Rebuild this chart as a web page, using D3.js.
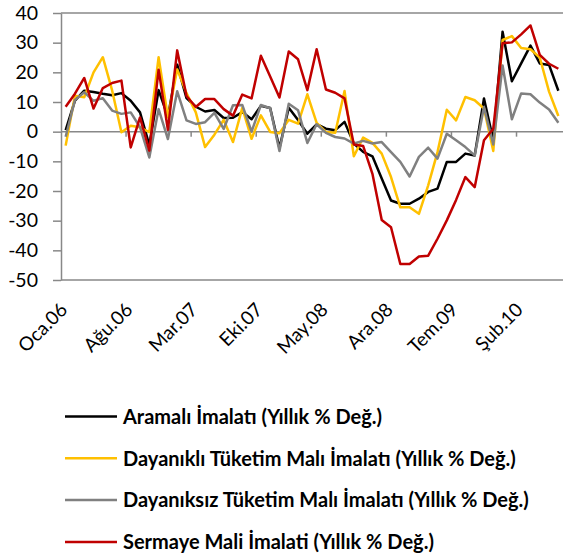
<!DOCTYPE html>
<html>
<head>
<meta charset="utf-8">
<script src="https://cdn.jsdelivr.net/npm/d3@7"></script>
<style>
  body { margin: 0; background: #fff; }
  text { font-family: Lato, "Open Sans", sans-serif; fill: #000; }
</style>
</head>
<body>
<div id="chart"></div>
<script>
// monthly, Oca.06 .. Haz.10
const months = ["Oca", "Şub", "Mar", "Nis", "May", "Haz", "Tem", "Ağu", "Eyl", "Eki", "Kas", "Ara"];
const categories = [];
for (let y = 6; y <= 10; y++) {
  for (let m = 0; m < 12; m++) {
    if (y === 10 && m > 5) break;
    categories.push(months[m] + "." + String(y).padStart(2, "0"));
  }
}

const araMali = [
  0.5, 10.5, 13.8, 13.4, 12.8, 12.3, 13.0, 10.4, 6.5, -4.5,
  14, 5, 22.6, 11.3, 8.4, 6.8, 7.3, 4.6, 4.7, 6.6,
  4.2, 8.7, 8.0, -5.5, 8.1, 3.9, -0.7, 2.5, 1.0, 0.5,
  3.3, -4.0, -6.8, -8.3, -15.8, -23.2, -24.3, -24.3, -22.6, -20.3,
  -19.2, -10.2, -10.2, -7.4, -8.0, 11.2, -2.9, 33.7, 17.0, 23.0,
  29.0, 23.0, 22.5, 13.8
];
const dayanikli = [
  -4.7, 12.1, 11.6, 20.0, 25.1, 13.9, -0.2, 2.0, 1.5, -0.2,
  25.1, 4.8, 21, 13.0, 6.5, -5.2, -1.0, 4.0, -3.5, 8.0,
  -2.4, 5.5, -0.1, -0.5, 4.0, 2.7, 12.6, 3.0, -0.1, -0.4,
  13.7, -8.3, -2.0, -3.8, -7.4, -15.3, -25.5, -25.5, -27.7, -18.1,
  -6.9, 7.4, 3.8, 11.7, 10.6, 7.8, -6.5, 30.9, 32.2, 28.2,
  27.8, 25.0, 13.5, 5.3
];
const dayaniksiz = [
  -1.7, 10.7, 13.3, 10.4, 11.3, 7.1, 6.0, 6.5, 1.5, -8.7,
  7.6, -2.5, 13.6, 3.8, 2.6, 3.2, 6.3, 0.9, 8.9, 9.0,
  0.0, 9.0, 7.9, -6.5, 9.4, 7.2, -3.8, 2.5, -0.4, -1.8,
  -2.3, -4.0, -3.1, -4.0, -3.5, -6.9, -10.2, -15.1, -8.5, -5.4,
  -9.1, -0.7, -2.9, -5.2, -8.0, 8.3, -4.3, 22.3, 4.2, 12.9,
  12.6, 9.8, 7.5, 3.0
];
const sermaye = [
  8.4, 12.8, 18.1, 7.8, 14.7, 16.4, 17.2, -5.3, 4.8, -6.4,
  20.9, 0.6, 27.4, 12.0, 8.3, 11.0, 11.0, 7.6, 5.4, 12.5,
  11.2, 25.6, 18.6, 11.5, 27.0, 24.4, 14.0, 27.8, 14.2, 13.1,
  11.2, -4.3, -4.8, -14.2, -29.8, -32.2, -44.6, -44.6, -42.1, -41.8,
  -36.1, -29.9, -23.0, -15.3, -18.7, -2.9, 1.0, 29.8, 30.1, 32.8,
  35.8, 25.9, 22.9, 21.2
];
const yTicks = [40, 30, 20, 10, 0, -10, -20, -30, -40, -50];
const xTickEvery = 7;

const seriesNames = [
  "Aramalı İmalatı (Yıllık % Değ.)",
  "Dayanıklı Tüketim Malı İmalatı (Yıllık % Değ.)",
  "Dayanıksız Tüketim Malı İmalatı (Yıllık % Değ.)",
  "Sermaye Mali İmalati (Yıllık % Değ.)"
];
const seriesValues = [araMali, dayanikli, dayaniksiz, sermaye];
const colors = ["#000000", "#FFC000", "#808080", "#C00000"];

const width = 563;
const height = 559;
const margin = { top: 13, right: 0, bottom: 280, left: 61 };

const svg = d3.select("#chart")
  .append("svg")
  .attr("width", width)
  .attr("height", height);

const x = d3.scaleBand()
  .domain(d3.range(categories.length))
  .range([margin.left, width - margin.right])
  .padding(0);

const y = d3.scaleLinear()
  .domain([-50, 40])
  .range([margin.bottom, margin.top]);

const axisColor = "#888888";

// top and bottom frame lines
svg.append("g")
  .selectAll("line")
  .data([40, -50])
  .join("line")
  .attr("x1", margin.left)
  .attr("x2", width)
  .attr("y1", d => y(d))
  .attr("y2", d => y(d))
  .attr("stroke", axisColor)
  .attr("stroke-width", 1.5);

// y axis
const yAxis = svg.append("g")
  .attr("transform", `translate(${margin.left},0)`)
  .call(d3.axisLeft(y).tickValues(yTicks).tickSize(8).tickPadding(15)
    .tickSizeOuter(0).tickFormat(d => String(d)));
yAxis.selectAll("path, line").attr("stroke", axisColor).attr("stroke-width", 1.5);
yAxis.selectAll("text").attr("font-size", "19.5px").attr("font-family", "Lato, sans-serif");

// zero line with category ticks
svg.append("line")
  .attr("x1", margin.left)
  .attr("x2", width)
  .attr("y1", y(0))
  .attr("y2", y(0))
  .attr("stroke", axisColor)
  .attr("stroke-width", 1.5);

const tickIdx = d3.range(0, categories.length, xTickEvery);
svg.append("g")
  .selectAll("line")
  .data(tickIdx.filter(i => i > 0))
  .join("line")
  .attr("x1", i => x(i))
  .attr("x2", i => x(i))
  .attr("y1", y(0))
  .attr("y2", y(0) + 5)
  .attr("stroke", axisColor)
  .attr("stroke-width", 1.5);

// category labels
svg.append("g")
  .selectAll("text")
  .data(tickIdx)
  .join("text")
  .attr("transform", i => `translate(${x(i) + x.bandwidth() / 2 + 3},${y(-50) + 31}) rotate(-45)`)
  .attr("text-anchor", "end")
  .attr("font-size", "19px")
  .text(i => categories[i]);

// lines
const line = d3.line()
  .x((d, i) => x(i) + x.bandwidth() / 2)
  .y(d => y(d));

svg.append("g")
  .selectAll("path")
  .data(seriesValues)
  .join("path")
  .attr("fill", "none")
  .attr("stroke", (d, i) => colors[i])
  .attr("stroke-width", 2.5)
  .attr("stroke-linejoin", "round")
  .attr("d", line);

// legend
const legend = svg.append("g")
  .selectAll("g")
  .data(seriesNames)
  .join("g")
  .attr("transform", (d, i) => `translate(65,${416.5 + i * 41.8})`);

legend.append("line")
  .attr("x1", 0)
  .attr("x2", 52)
  .attr("stroke", (d, i) => colors[i])
  .attr("stroke-width", 2.5);

legend.append("text")
  .attr("x", 58)
  .attr("dy", "0.36em")
  .attr("font-size", "20px")
  .attr("font-weight", "bold")
  .text(d => d);
</script>
</body>
</html>
